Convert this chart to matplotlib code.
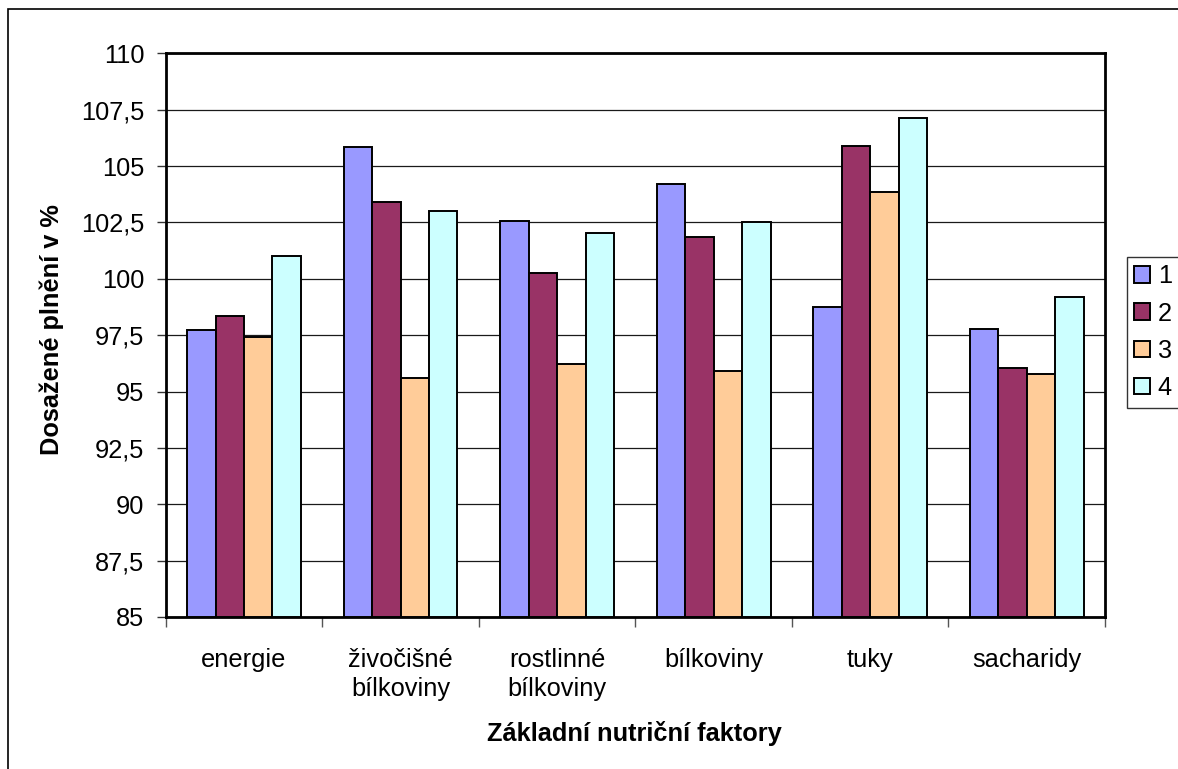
import matplotlib
matplotlib.use("Agg")
import matplotlib.pyplot as plt
import numpy as np
from matplotlib.patches import Patch, Rectangle
from matplotlib.ticker import FixedLocator

plt.rcParams['font.family'] = ['Liberation Sans', 'DejaVu Sans']

categories = ["energie", "živočišné\nbílkoviny", "rostlinné\nbílkoviny", "bílkoviny", "tuky", "sacharidy"]
series_names = ["1", "2", "3", "4"]
s1 = [97.73, 105.83, 102.58, 104.20, 98.75, 97.76]
s2 = [98.35, 103.40, 100.27, 101.85, 105.89, 96.03]
s3 = [97.43, 95.62, 96.21, 95.91, 103.84, 95.78]
s4 = [101.03, 103.00, 102.02, 102.50, 107.12, 99.20]
series = [s1, s2, s3, s4]
colors = ["#9999FF", "#993366", "#FFCC99", "#CCFFFF"]
yticks = [85, 87.5, 90, 92.5, 95, 97.5, 100, 102.5, 105, 107.5, 110]
ytick_labels = ["85", "87,5", "90", "92,5", "95", "97,5", "100", "102,5", "105", "107,5", "110"]

FS = 18.3
W, H = 1178, 769
fig = plt.figure(figsize=(W / 100, H / 100), dpi=100)
left, right, top, bottom = 165.7, 1105.0, 53.3, 617.0
ax = fig.add_axes([left / W, 1 - bottom / H, (right - left) / W, (bottom - top) / H])

n = len(categories)
x = np.arange(n)
bw = 1 / 5.5
base = 85
for i, (vals, c, name) in enumerate(zip(series, colors, series_names)):
    offs = (i - 1.5) * bw
    ax.bar(x + offs, np.array(vals) - base, bottom=base, width=bw, color=c,
           edgecolor="black", linewidth=1.4, label=name, zorder=3)

ax.set_xlim(-0.5, n - 0.5)
ax.set_ylim(85, 110)
ax.set_yticks(yticks)
ax.set_yticklabels(ytick_labels)
ax.yaxis.grid(True, color="#1a1a1a", linewidth=0.9, zorder=0)
ax.set_axisbelow(True)

ax.set_xticks(x)
ax.set_xticklabels(categories, linespacing=1.3)
ax.xaxis.set_minor_locator(FixedLocator(np.arange(-0.5, n, 1.0)))
ax.tick_params(axis="x", which="major", length=0, pad=22, labelsize=FS)
ax.tick_params(axis="x", which="minor", length=7, width=1, color="#555555", direction="out")
ax.tick_params(axis="y", which="major", length=6.5, width=1, color="#333333", direction="out",
               pad=9, labelsize=FS)

for sp in ax.spines.values():
    sp.set_linewidth(2)
    sp.set_color("black")

fig.text(52 / W, 1 - 330 / H, "Dosažené plnění v %", rotation=90, ha="center", va="center",
         fontsize=FS, fontweight="bold")
fig.text(634 / W, 1 - 733 / H, "Základní nutriční faktory", ha="center", va="center",
         fontsize=FS, fontweight="bold")

handles = [Patch(facecolor=c, edgecolor="black", linewidth=1.4) for c in colors]
leg = fig.legend(handles, series_names, loc="upper left",
                 bbox_to_anchor=(1126.7 / W, 1 - 256.7 / H), fontsize=FS,
                 frameon=True, fancybox=False, edgecolor="black", handlelength=0.62,
                 handleheight=0.62, handletextpad=0.3, labelspacing=0.52,
                 borderpad=0.3, borderaxespad=0)
leg.get_frame().set_linewidth(1)

fig.patches.append(Rectangle((8 / W, -1), 5, 1 - 9 / H + 1, transform=fig.transFigure,
                             fill=False, edgecolor="black", linewidth=1.2))

fig.savefig("out.png", dpi=100)
